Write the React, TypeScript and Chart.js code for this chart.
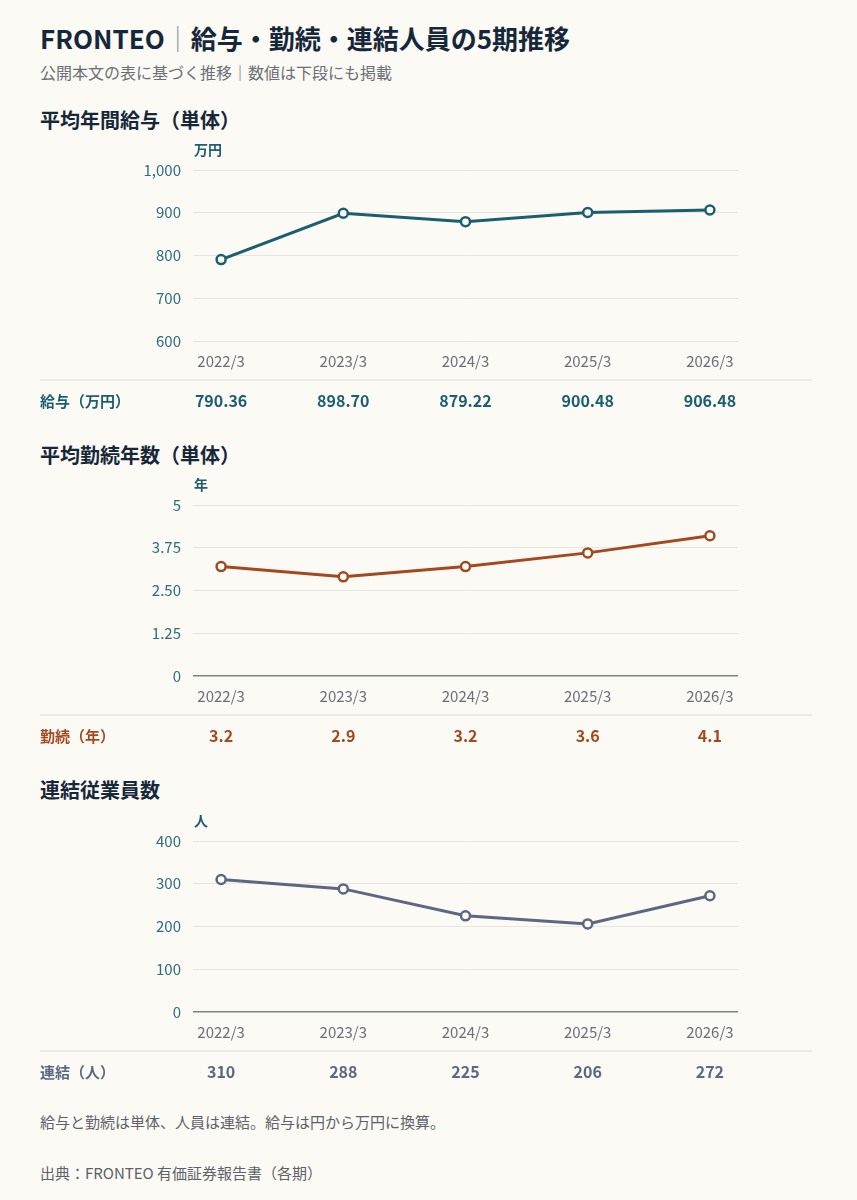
import { useEffect, useRef } from 'react';
import Chart from 'chart.js/auto';

const FONT = '"Noto Sans CJK JP", "Noto Sans", sans-serif';
const BG = '#fbfaf5';

const PERIODS = ['2022/3', '2023/3', '2024/3', '2025/3', '2026/3'];
const SALARY = [790.36, 898.7, 879.22, 900.48, 906.48];
const TENURE = [3.2, 2.9, 3.2, 3.6, 4.1];
const EMPLOYEES = [310, 288, 225, 206, 272];

const SALARY_AXIS = { min: 600, max: 1000, step: 100 };
const TENURE_AXIS = { min: 0, max: 5, step: 1.25 };
const EMPLOYEE_AXIS = { min: 0, max: 400, step: 100 };

const TICK_COLOR = '#2f6c80';
const GRID_COLOR = '#e8e6e0';
const ZERO_COLOR = '#71878a';

interface SectionProps {
  top: number;
  values: number[];
  color: string;
  unit: string;
  rowLabel: string;
  decimals: number;
  axis: { min: number; max: number; step: number };
  fmt: (v: number) => string;
}

const extrasPlugin = {
  id: 'extras',
  afterDraw(chart: any, _args: any, opts: any) {
    const { ctx, chartArea, scales } = chart;
    ctx.save();
    ctx.textBaseline = 'middle';
    ctx.textAlign = 'left';
    ctx.font = `700 14px ${FONT}`;
    ctx.fillStyle = '#1f5d70';
    ctx.fillText(opts.unit, chartArea.left + 1, chartArea.top - 20);

    ctx.strokeStyle = '#e6e4de';
    ctx.lineWidth = 1.5;
    ctx.beginPath();
    ctx.moveTo(40, 240);
    ctx.lineTo(812, 240);
    ctx.stroke();

    ctx.fillStyle = opts.color;
    ctx.font = `700 15px ${FONT}`;
    ctx.fillText(opts.rowLabel, 40, 261);
    ctx.font = `700 16px ${FONT}`;
    ctx.textAlign = 'center';
    opts.values.forEach((v: number, i: number) => {
      ctx.fillText(v.toFixed(opts.decimals), scales.x.getPixelForValue(i), 261);
    });
    ctx.restore();
  },
};

function Section({ top, values, color, unit, rowLabel, decimals, axis, fmt }: SectionProps) {
  const canvasRef = useRef<HTMLCanvasElement>(null);

  useEffect(() => {
    if (!canvasRef.current) return;
    const chart = new Chart(canvasRef.current, {
      type: 'line',
      data: {
        datasets: [
          {
            data: values.map((v, i) => ({ x: i, y: v })),
            borderColor: color,
            borderWidth: 3,
            pointRadius: 4.5,
            pointBorderWidth: 2.5,
            pointBackgroundColor: '#ffffff',
            pointBorderColor: color,
            tension: 0,
          },
        ],
      },
      plugins: [extrasPlugin],
      options: {
        animation: false,
        responsive: true,
        maintainAspectRatio: false,
        layout: { padding: { left: 133, right: 119, top: 30, bottom: 39 } },
        plugins: {
          legend: { display: false },
          tooltip: { enabled: false },
          extras: { unit, rowLabel, color, values, decimals },
        } as any,
        scales: {
          x: {
            type: 'linear',
            min: -0.23,
            max: 4.23,
            afterBuildTicks: (s: any) => {
              s.ticks = PERIODS.map((_, i) => ({ value: i }));
            },
            afterFit: (s: any) => {
              s.height = 40;
            },
            grid: { display: false },
            border: { display: false },
            ticks: {
              color: '#6b7078',
              font: { family: FONT, size: 15 },
              padding: 3,
              maxRotation: 0,
              callback: (v: any) => PERIODS[v as number] ?? '',
            },
          },
          y: {
            min: axis.min,
            max: axis.max,
            afterBuildTicks: (s: any) => {
              const t = [];
              for (let v = axis.min; v <= axis.max + 1e-9; v += axis.step) t.push({ value: v });
              s.ticks = t;
            },
            afterFit: (s: any) => {
              s.width = 60;
            },
            border: { display: false },
            grid: {
              drawTicks: false,
              color: (c: any) => (c.tick && c.tick.value === 0 ? ZERO_COLOR : GRID_COLOR),
              lineWidth: (c: any) => (c.tick && c.tick.value === 0 ? 1.5 : 1),
            },
            ticks: {
              color: TICK_COLOR,
              font: { family: FONT, size: 15 },
              padding: 12,
              callback: (v: any) => fmt(v as number),
            },
          },
        },
      },
    });
    return () => chart.destroy();
  }, [values, color, unit, rowLabel, decimals, axis, fmt]);

  return (
    <div style={{ position: 'absolute', left: 0, top, width: 857, height: 280 }}>
      <canvas ref={canvasRef} />
    </div>
  );
}

const fmtThousands = (v: number) => v.toLocaleString('en-US');
const fmtTenure = (v: number) => (Number.isInteger(v) ? String(v) : v.toFixed(2));

const text = (top: number, size: number, color: string, weight = 400): React.CSSProperties => ({
  position: 'absolute',
  left: 40,
  top,
  fontSize: size,
  lineHeight: `${Math.round(size * 1.2)}px`,
  color,
  fontWeight: weight,
  whiteSpace: 'nowrap',
});

export default function App() {
  useEffect(() => {
    document.body.style.margin = '0';
    document.body.style.background = BG;
  }, []);

  return (
    <div
      style={{
        position: 'absolute',
        left: 0,
        top: 0,
        width: 857,
        height: 1200,
        background: BG,
        fontFamily: FONT,
        overflow: 'hidden',
      }}
    >
      <div style={text(22, 26, '#17273a', 700)}>
        FRONTEO<span style={{ color: '#8c97a3', fontWeight: 400 }}>｜</span>給与・勤続・連結人員の5期推移
      </div>
      <div style={text(63, 16, '#6b7076')}>公開本文の表に基づく推移｜数値は下段にも掲載</div>

      <div style={text(108, 20, '#17273a', 700)}>平均年間給与（単体）</div>
      <Section
        top={140}
        values={SALARY}
        color="#1b5e70"
        unit="万円"
        rowLabel="給与（万円）"
        decimals={2}
        axis={SALARY_AXIS}
        fmt={fmtThousands}
      />

      <div style={text(443, 20, '#17273a', 700)}>平均勤続年数（単体）</div>
      <Section
        top={475}
        values={TENURE}
        color="#a4491f"
        unit="年"
        rowLabel="勤続（年）"
        decimals={1}
        axis={TENURE_AXIS}
        fmt={fmtTenure}
      />

      <div style={text(778, 20, '#17273a', 700)}>連結従業員数</div>
      <Section
        top={811}
        values={EMPLOYEES}
        color="#5d6783"
        unit="人"
        rowLabel="連結（人）"
        decimals={0}
        axis={EMPLOYEE_AXIS}
        fmt={fmtThousands}
      />

      <div style={text(1113, 15, '#5e6268')}>給与と勤続は単体、人員は連結。給与は円から万円に換算。</div>
      <div style={text(1164, 15, '#5e6268')}>出典：FRONTEO 有価証券報告書（各期）</div>
    </div>
  );
}
